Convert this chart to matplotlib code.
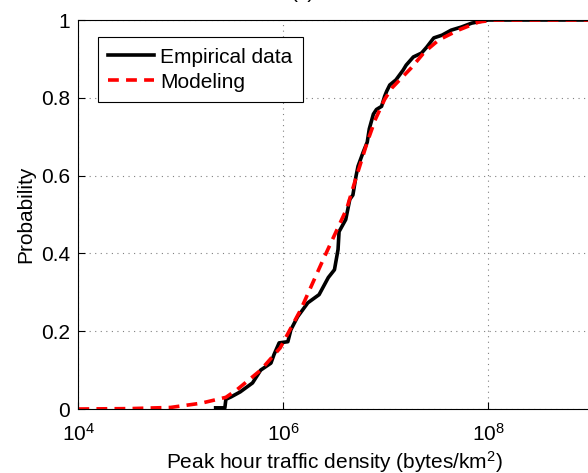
import matplotlib.pyplot as plt
import numpy as np

plt.rcParams['font.family'] = ['Liberation Sans', 'DejaVu Sans']
plt.rcParams['mathtext.fontset'] = 'custom'
plt.rcParams['mathtext.rm'] = 'Liberation Sans'
plt.rcParams['mathtext.it'] = 'Liberation Sans:italic'

# Empirical CDF (log10 of traffic density, probability)
emp_log = [5.34, 5.43, 5.44, 5.49, 5.58, 5.70, 5.78, 5.88, 5.91, 5.96, 6.045,
           6.075, 6.14, 6.24, 6.35, 6.44, 6.50, 6.535, 6.545, 6.61, 6.65, 6.68,
           6.71, 6.73, 6.78, 6.82, 6.84, 6.88, 6.91, 6.96, 6.99, 7.01, 7.04,
           7.10, 7.17, 7.20, 7.27, 7.35, 7.40, 7.47, 7.55, 7.64, 7.74, 7.84,
           7.94, 8.0, 9.0]
emp_p = [0.003, 0.003, 0.025, 0.031, 0.044, 0.067, 0.10, 0.118, 0.14, 0.17,
         0.173, 0.204, 0.237, 0.273, 0.294, 0.338, 0.358, 0.41, 0.456, 0.487,
         0.539, 0.55, 0.598, 0.624, 0.66, 0.686, 0.72, 0.758, 0.77, 0.778,
         0.804, 0.817, 0.833, 0.846, 0.871, 0.884, 0.905, 0.915, 0.93, 0.954,
         0.961, 0.974, 0.982, 0.992, 0.997, 1.0, 1.0]

# Modeling curve
mod_log = [4.0, 4.5, 4.9, 5.2, 5.44, 5.55, 5.78, 5.97, 6.17, 6.40, 6.62,
           6.70, 6.82, 6.90, 6.99, 7.06, 7.25, 7.38, 7.52, 7.71, 7.91, 8.06, 9.0]
mod_p = [0.0, 0.001, 0.004, 0.015, 0.03, 0.05, 0.10, 0.157, 0.255, 0.39, 0.515,
         0.585, 0.686, 0.745, 0.796, 0.825, 0.877, 0.918, 0.949, 0.974, 0.995,
         1.0, 1.0]

fig = plt.figure(figsize=(5.88, 4.73), dpi=100)
ax = fig.add_axes([0.1333, 0.1353, 0.871, 0.8224])

ax.plot(10 ** np.array(emp_log), emp_p, color='black', lw=2.6, label='Empirical data')
ax.plot(10 ** np.array(mod_log), mod_p, color='red', lw=2.6, dashes=(3, 2),
        label='Modeling')

ax.set_xscale('log')
ax.set_xlim(1e4, 1e9)
ax.set_ylim(0, 1)
ax.set_xticks([1e4, 1e6, 1e8])
ax.xaxis.set_minor_locator(plt.NullLocator())
ax.set_yticks([0, 0.2, 0.4, 0.6, 0.8, 1])
ax.set_yticklabels(['0', '0.2', '0.4', '0.6', '0.8', '1'])
ax.tick_params(direction='in', length=5, labelsize=15, pad=6)
ax.tick_params(axis='x', pad=10)
ax.grid(True, linestyle=(0, (1, 4)), color='0.5', linewidth=0.8)

ax.set_xlabel('Peak hour traffic density (bytes/km$^2$)', fontsize=15, labelpad=3)
ax.set_ylabel('Probability', fontsize=15, labelpad=4)

leg = ax.legend(loc='upper left', bbox_to_anchor=(0.038, 0.956), borderaxespad=0,
                fontsize=15, fancybox=False, edgecolor='black', framealpha=1,
                handlelength=2.2, handletextpad=0.3, borderpad=0.5, labelspacing=0.3)
leg.get_frame().set_linewidth(0.8)

fig.text(303 / 588, 1 - 2 / 473, '(c)', ha='center', va='bottom', fontsize=15)

fig.savefig('out.png', dpi=100)
